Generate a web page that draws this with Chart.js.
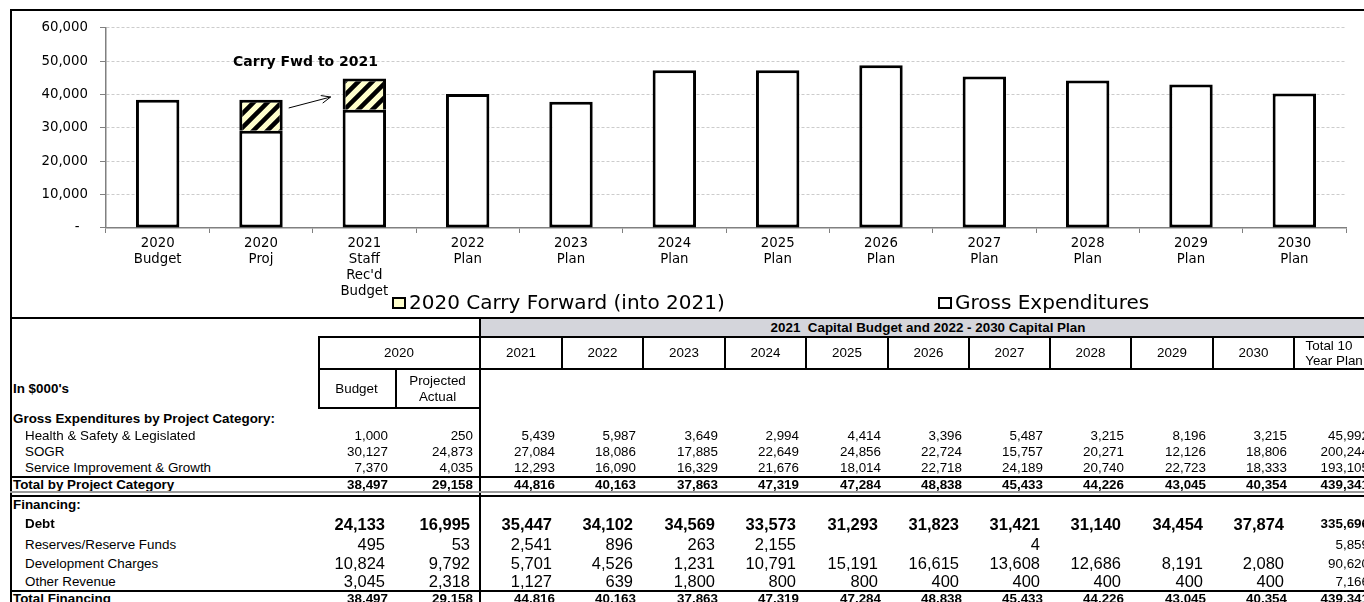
<!DOCTYPE html>
<html>
<head>
<meta charset="utf-8">
<title>2021 Capital Budget and 2022 - 2030 Capital Plan</title>
<script src="https://cdn.jsdelivr.net/npm/chart.js@4.4.0/dist/chart.umd.min.js"></script>
<style>
  html, body { margin: 0; padding: 0; background: #fff; overflow: hidden; }
  body { width: 1364px; height: 602px; position: relative; font-family: 'Liberation Sans', Arial, sans-serif; color: #000; }
  #chartBox { position: absolute; left: 12px; top: 8px; width: 1352px; height: 308px; }
  .legend-sq { position: absolute; width: 10px; height: 8px; border: 2px solid #000; }
  .legend-txt { position: absolute; font-family: 'DejaVu Sans', sans-serif; font-size: 20px; line-height: 20px; white-space: nowrap; }
</style>
</head>
<body>

<div id="chartBox"><canvas id="capChart" width="1352" height="308" style="width:1352px;height:308px"></canvas></div>

<!-- legend -->
<div class="legend-sq" style="left:392px;top:297px;background:#ffffcc"></div>
<div class="legend-txt" style="left:409px;top:292px">2020 Carry Forward (into 2021)</div>
<div class="legend-sq" style="left:938px;top:297px;background:#fff"></div>
<div class="legend-txt" style="left:955px;top:292px">Gross Expenditures</div>

<div id="tbl"></div>

<script>
// ----------------------------- chart data ---------------------------------
const barLabels = [
  ["2020", "Budget"], ["2020", "Proj"], ["2021", "Staff", "Rec'd", "Budget"],
  ["2022", "Plan"], ["2023", "Plan"], ["2024", "Plan"], ["2025", "Plan"],
  ["2026", "Plan"], ["2027", "Plan"], ["2028", "Plan"], ["2029", "Plan"], ["2030", "Plan"]
];
const grossExp = [38497, 29158, 35477, 40163, 37863, 47319, 47284, 48838, 45433, 44226, 43045, 40354];
const carryFwd = [null, 9339, 9339, null, null, null, null, null, null, null, null, null];
const yMax = 60000;
const yStep = 10000;

// ----------------------------- table data ---------------------------------
const yearCols = ["2021", "2022", "2023", "2024", "2025", "2026", "2027", "2028", "2029", "2030"];
// columns: 2020 Budget, 2020 Projected Actual, 2021 ... 2030, Total 10 Year Plan
const healthSafety    = [1000, 250, 5439, 5987, 3649, 2994, 4414, 3396, 5487, 3215, 8196, 3215, 45992];
const sogr            = [30127, 24873, 27084, 18086, 17885, 22649, 24856, 22724, 15757, 20271, 12126, 18806, 200244];
const serviceGrowth   = [7370, 4035, 12293, 16090, 16329, 21676, 18014, 22718, 24189, 20740, 22723, 18333, 193105];
const totalByCategory = [38497, 29158, 44816, 40163, 37863, 47319, 47284, 48838, 45433, 44226, 43045, 40354, 439341];
const debt            = [24133, 16995, 35447, 34102, 34569, 33573, 31293, 31823, 31421, 31140, 34454, 37874, 335696];
const reserves        = [495, 53, 2541, 896, 263, 2155, null, null, 4, null, null, null, 5859];
const devCharges      = [10824, 9792, 5701, 4526, 1231, 10791, 15191, 16615, 13608, 12686, 8191, 2080, 90620];
const otherRevenue    = [3045, 2318, 1127, 639, 1800, 800, 800, 400, 400, 400, 400, 400, 7166];
const totalFinancing  = [38497, 29158, 44816, 40163, 37863, 47319, 47284, 48838, 45433, 44226, 43045, 40354, 439341];

// ----------------------------- hatch fill ---------------------------------
function makeHatch() {
  const c = document.createElement('canvas');
  c.width = 14; c.height = 14;
  const g = c.getContext('2d');
  g.fillStyle = '#ffffcc';
  g.fillRect(0, 0, 14, 14);
  g.strokeStyle = '#000';
  g.lineWidth = 4.5;
  g.beginPath();
  g.moveTo(-9, 9); g.lineTo(9, -9);
  g.moveTo(-2, 16); g.lineTo(16, -2);
  g.moveTo(5, 23); g.lineTo(23, 5);
  g.stroke();
  return g.createPattern(c, 'repeat');
}

// "Carry Fwd to 2021" note with arrow
const carryNote = {
  id: 'carryNote',
  afterDatasetsDraw(chart) {
    const xs = chart.scales.x, ys = chart.scales.y, ctx = chart.ctx;
    const half = chart.getDatasetMeta(0).data[1].width / 2;
    ctx.save();
    ctx.font = "bold 14px 'DejaVu Sans'";
    ctx.fillStyle = '#000';
    ctx.textAlign = 'left';
    ctx.textBaseline = 'middle';
    ctx.fillText('Carry Fwd to 2021', xs.getPixelForValue(1) - 28, ys.getPixelForValue(50000) + 1);

    const x1 = xs.getPixelForValue(1) + half + 6, y1 = ys.getPixelForValue(36000);
    const x2 = xs.getPixelForValue(2) - half - 12, y2 = ys.getPixelForValue(39300);
    const ang = Math.atan2(y2 - y1, x2 - x1);
    ctx.strokeStyle = '#000';
    ctx.lineWidth = 1;
    ctx.beginPath();
    ctx.moveTo(x1, y1); ctx.lineTo(x2, y2);
    ctx.moveTo(x2 - 10 * Math.cos(ang - 0.4), y2 - 10 * Math.sin(ang - 0.4));
    ctx.lineTo(x2, y2);
    ctx.lineTo(x2 - 10 * Math.cos(ang + 0.4), y2 - 10 * Math.sin(ang + 0.4));
    ctx.stroke();
    ctx.restore();
  }
};

// ----------------------------- chart --------------------------------------
const chartFont = { family: "'DejaVu Sans'", size: 13.3, lineHeight: 1.2 };

new Chart(document.getElementById('capChart'), {
  type: 'bar',
  data: {
    labels: barLabels,
    datasets: [
      {
        label: 'Gross Expenditures',
        data: grossExp,
        backgroundColor: '#ffffff',
        borderColor: '#000000',
        borderWidth: 3,
        borderSkipped: false
      },
      {
        label: '2020 Carry Forward (into 2021)',
        data: carryFwd,
        backgroundColor: makeHatch(),
        borderColor: '#000000',
        borderWidth: 3,
        borderSkipped: 'start'
      }
    ]
  },
  options: {
    responsive: false,
    animation: false,
    devicePixelRatio: 1,
    categoryPercentage: 1,
    barPercentage: 0.42,
    layout: { padding: { top: 4, right: 18, left: 0, bottom: 0 } },
    plugins: {
      legend: { display: false },
      tooltip: { enabled: false }
    },
    scales: {
      x: {
        stacked: true,
        afterFit: function(scale) { scale.height = 88; },
        grid: {
          drawOnChartArea: false,
          drawTicks: true,
          tickLength: 5,
          color: '#808080',
          offset: true
        },
        border: { color: '#808080', width: 1.5 },
        ticks: {
          color: '#000',
          font: chartFont,
          padding: 3,
          maxRotation: 0,
          autoSkip: false
        }
      },
      y: {
        stacked: true,
        min: 0,
        max: yMax,
        afterFit: function(scale) { scale.width = 94; },
        grid: {
          color: function(ctx) { return ctx.tick && ctx.tick.value === 0 ? 'rgba(0,0,0,0)' : '#cccccc'; },
          tickColor: '#808080',
          tickLength: 6,
          tickBorderDash: []
        },
        border: { color: '#808080', width: 1.5, dash: [3, 2] },
        ticks: {
          stepSize: yStep,
          color: '#000',
          font: chartFont,
          padding: 12,
          callback: function(v) { return v === 0 ? '-  ' : v.toLocaleString('en-US'); }
        }
      }
    }
  },
  plugins: [carryNote]
});

// ----------------------------- table --------------------------------------
const tbl = document.getElementById('tbl');
const colX = [10, 318, 395, 480, 562, 643, 725, 806, 888, 969, 1050, 1131, 1213, 1294, 1376];
const SMALL = 13.4, BIG = 16.5;

function box(x, y, w, h, css) {
  const d = document.createElement('div');
  d.style.cssText = 'position:absolute;left:' + x + 'px;top:' + y + 'px;width:' + w + 'px;height:' + h + 'px;' + (css || '');
  tbl.appendChild(d);
  return d;
}
function text(x, y, w, h, str, css) {
  const d = box(x, y, w, h, 'line-height:' + h + 'px;white-space:pre;' + (css || ''));
  d.textContent = str;
  return d;
}
function hline(x1, x2, y, t, color) { box(x1, y, x2 - x1, t, 'background:' + (color || '#000')); }
function vline(x, y1, y2, t) { box(x, y1, t, y2 - y1, 'background:#000'); }
function fmt(v) { return v === null ? '' : v.toLocaleString('en-US'); }

// frame around the chart
hline(10, 1364, 9, 2);
vline(10, 9, 602, 2);
hline(10, 1364, 317, 2);

// header band
box(480, 319, 900, 17, 'background:#d4d5db');
text(480, 319, 896, 17, '2021  Capital Budget and 2022 - 2030 Capital Plan',
  'text-align:center;font-weight:bold;font-size:' + SMALL + 'px');
hline(318, 1376, 336, 2);
hline(318, 1376, 368, 2);
hline(318, 480, 407, 2);
vline(318, 336, 408, 2);
vline(395, 368, 408, 2);
vline(479, 319, 602, 2);
for (let i = 4; i < colX.length - 1; i++) vline(colX[i] - 1, 336, 369, 2);

text(318, 337, 162, 31, '2020', 'text-align:center;font-size:' + SMALL + 'px');
yearCols.forEach(function(y, i) {
  text(colX[i + 3], 337, colX[i + 4] - colX[i + 3], 31, y, 'text-align:center;font-size:' + SMALL + 'px');
});
text(1294, 338, 70, 15, 'Total 10', 'text-align:center;font-size:' + SMALL + 'px');
text(1294, 353, 80, 15, 'Year Plan', 'text-align:center;font-size:' + SMALL + 'px');

text(13, 369, 200, 39, "In $000's", 'font-weight:bold;font-size:' + SMALL + 'px');
text(318, 369, 77, 39, 'Budget', 'text-align:center;font-size:' + SMALL + 'px');
text(395, 373, 85, 16, 'Projected', 'text-align:center;font-size:' + SMALL + 'px');
text(395, 389, 85, 16, 'Actual', 'text-align:center;font-size:' + SMALL + 'px');

const bodyRows = [
  { label: 'Gross Expenditures by Project Category:', top: 409, h: 19, head: true },
  { label: 'Health & Safety & Legislated', top: 427, h: 17, values: healthSafety },
  { label: 'SOGR', top: 444, h: 16, values: sogr },
  { label: 'Service Improvement & Growth', top: 460, h: 16, values: serviceGrowth },
  { label: 'Total by Project Category', top: 477, h: 15, values: totalByCategory, head: true },
  { label: 'Financing:', top: 497, h: 16, head: true },
  { label: 'Debt', top: 513, h: 22, values: debt, big: true, bold: true },
  { label: 'Reserves/Reserve Funds', top: 535, h: 19, values: reserves, big: true },
  { label: 'Development Charges', top: 554, h: 19, values: devCharges, big: true },
  { label: 'Other Revenue', top: 573, h: 17, values: otherRevenue, big: true },
  { label: 'Total Financing', top: 591, h: 16, values: totalFinancing, head: true }
];

bodyRows.forEach(function(r) {
  const bold = r.head || r.bold;
  text(r.head ? 13 : 25, r.top, 300, r.h, r.label,
    'font-size:' + SMALL + 'px;' + (bold ? 'font-weight:bold;' : ''));
  if (!r.values) return;
  r.values.forEach(function(v, j) {
    const x1 = colX[j + 1], x2 = colX[j + 2];
    const big = r.big && j < r.values.length - 1;
    text(x1, r.top, x2 - x1 - (big ? 10 : 7), r.h, fmt(v),
      'text-align:right;font-size:' + (big ? BIG : SMALL) + 'px;' + (bold ? 'font-weight:bold;' : ''));
  });
});

hline(10, 1376, 476, 1.5);
hline(10, 1376, 491, 2, '#9a9a9a');
hline(10, 1376, 495, 1.5);
hline(10, 1376, 590, 1.5);
</script>
</body>
</html>
